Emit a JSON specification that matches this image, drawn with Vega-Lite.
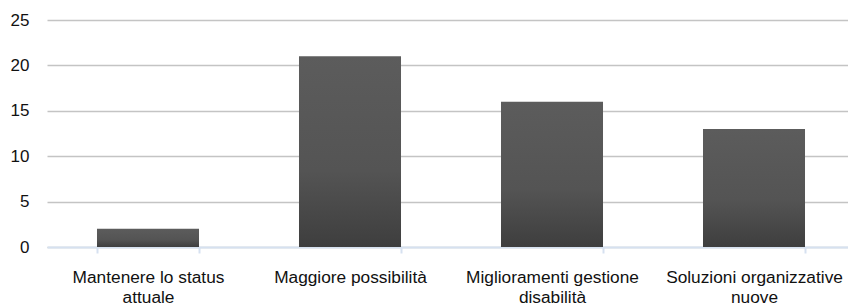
{
  "$schema": "https://vega.github.io/schema/vega-lite/v6.json",
  "autosize": "none",
  "width": 801,
  "height": 227,
  "padding": {"left": 47, "top": 20, "right": 0, "bottom": 56},
  "background": "white",
  "config": {"view": {"stroke": null}, "font": "Liberation Sans"},
  "data": {"values": [
    {"categoria": "Mantenere lo status attuale", "valore": 2},
    {"categoria": "Maggiore possibilità", "valore": 21},
    {"categoria": "Miglioramenti gestione disabilità", "valore": 16},
    {"categoria": "Soluzioni organizzative nuove", "valore": 13}
  ]},
  "mark": {
    "type": "bar",
    "color": {
      "gradient": "linear", "x1": 0, "y1": 0, "x2": 0, "y2": 1,
      "stops": [
        {"offset": 0, "color": "#5c5c5c"},
        {"offset": 0.6, "color": "#545454"},
        {"offset": 1, "color": "#3e3e3e"}
      ]
    }
  },
  "encoding": {
    "x": {
      "field": "categoria", "type": "nominal", "sort": null,
      "scale": {"range": [0, 808], "paddingInner": 0.495, "paddingOuter": 0.2475},
      "axis": {
        "title": null, "labelAngle": 0, "tickBand": "extent",
        "domainColor": "#d6e1f0", "domainWidth": 2,
        "tickColor": "#d6e1f0", "tickWidth": 2, "tickSize": 6,
        "labelFont": "Liberation Sans", "labelFontSize": 17.3, "labelColor": "#111111",
        "labelBaseline": "alphabetic",
        "labelPadding": 29, "labelLineHeight": 20.5, "labelLimit": 0,
        "labelExpr": "datum.value == 'Mantenere lo status attuale' ? ['Mantenere lo status', 'attuale'] : datum.value == 'Miglioramenti gestione disabilità' ? ['Miglioramenti gestione', 'disabilità'] : datum.value == 'Soluzioni organizzative nuove' ? ['Soluzioni organizzative', 'nuove'] : datum.value"
      }
    },
    "y": {
      "field": "valore", "type": "quantitative",
      "scale": {"domain": [0, 25], "nice": false},
      "axis": {
        "title": null, "values": [0, 5, 10, 15, 20, 25],
        "domain": false, "ticks": false,
        "gridColor": "#c4c4c4", "gridWidth": 1.5,
        "labelFont": "Liberation Sans", "labelFontSize": 17, "labelColor": "#111111",
        "labelPadding": 18
      }
    }
  }
}
